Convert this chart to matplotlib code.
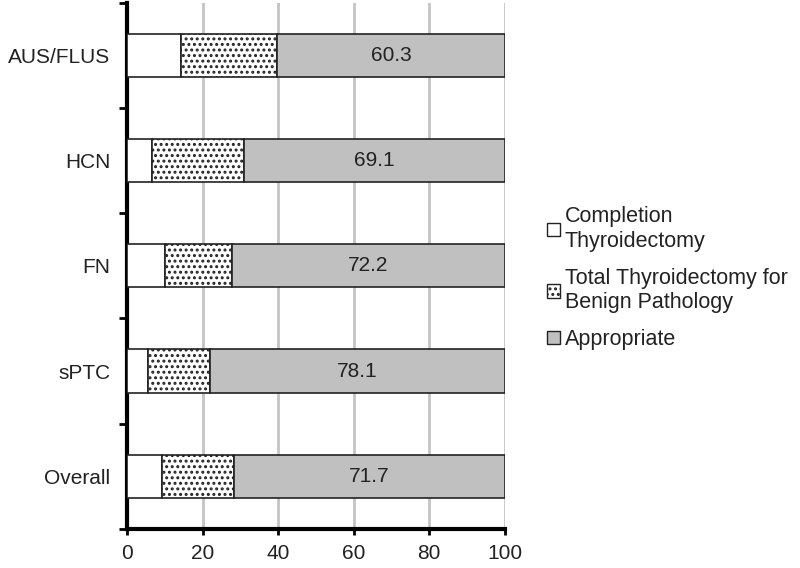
import matplotlib.pyplot as plt
from matplotlib.patches import Patch

plt.rcParams['font.family'] = ['Liberation Sans', 'DejaVu Sans']
plt.rcParams['hatch.linewidth'] = 1.4
plt.rcParams['hatch.color'] = '#555555'

# data, top to bottom as in the chart
categories = ['AUS/FLUS', 'HCN', 'FN', 'sPTC', 'Overall']
completion = [14.3, 6.5, 10.1, 5.6, 9.2]
appropriate = [60.3, 69.1, 72.2, 78.1, 71.7]
benign = [100 - c - a for c, a in zip(completion, appropriate)]
x_ticks = [0, 20, 40, 60, 80, 100]

fig = plt.figure(figsize=(8, 5.68), dpi=100)
ax = fig.add_axes([0.159, 0.069, 0.472, 0.926])

pos = list(range(len(categories)))
h = 0.41
ax.barh(pos, completion, height=h, color='white', edgecolor='#222222', linewidth=1.2, zorder=3)
ax.barh(pos, benign, left=completion, height=h, color='white', edgecolor='#222222',
        hatch='...', linewidth=1.2, zorder=3)
left2 = [c + b for c, b in zip(completion, benign)]
ax.barh(pos, appropriate, left=left2, height=h, color='#c0c0c0', edgecolor='#222222',
        linewidth=1.2, zorder=3)
for p, l, a in zip(pos, left2, appropriate):
    ax.text(l + a / 2, p, f'{a:.1f}', ha='center', va='center', fontsize=15, color='#222222', zorder=4)

ax.set_xlim(0, 100)
ax.set_ylim(len(categories) - 0.5, -0.5)
ax.set_xticks(x_ticks)
ax.tick_params(axis='x', labelsize=15, length=4, width=2, pad=7, labelcolor='#222222')
ax.set_yticks(pos)
ax.set_yticklabels(categories)
ax.tick_params(axis='y', labelsize=15, length=0, pad=12, labelcolor='#222222')
ax.set_yticks([p - 0.5 for p in pos] + [len(pos) - 0.5], minor=True)
ax.tick_params(axis='y', which='minor', length=6, width=2)
ax.xaxis.grid(True, color='#c4c4c4', linewidth=2, zorder=0)
ax.set_axisbelow(True)
for s in ['top', 'right']:
    ax.spines[s].set_visible(False)
for s in ['left', 'bottom']:
    ax.spines[s].set_linewidth(3)

handles = [
    Patch(facecolor='white', edgecolor='#222222', label='Completion\nThyroidectomy'),
    Patch(facecolor='white', edgecolor='#222222', hatch='...', label='Total Thyroidectomy for\nBenign Pathology'),
    Patch(facecolor='#c0c0c0', edgecolor='#222222', label='Appropriate'),
]
leg = fig.legend(handles=handles, loc='center left', bbox_to_anchor=(0.66, 0.51), frameon=False,
                 fontsize=15.5, handlelength=0.6, handleheight=0.6, handletextpad=0.2,
                 labelspacing=0.75)
for t in leg.get_texts():
    t.set_color('#222222')

fig.savefig('out.png')
